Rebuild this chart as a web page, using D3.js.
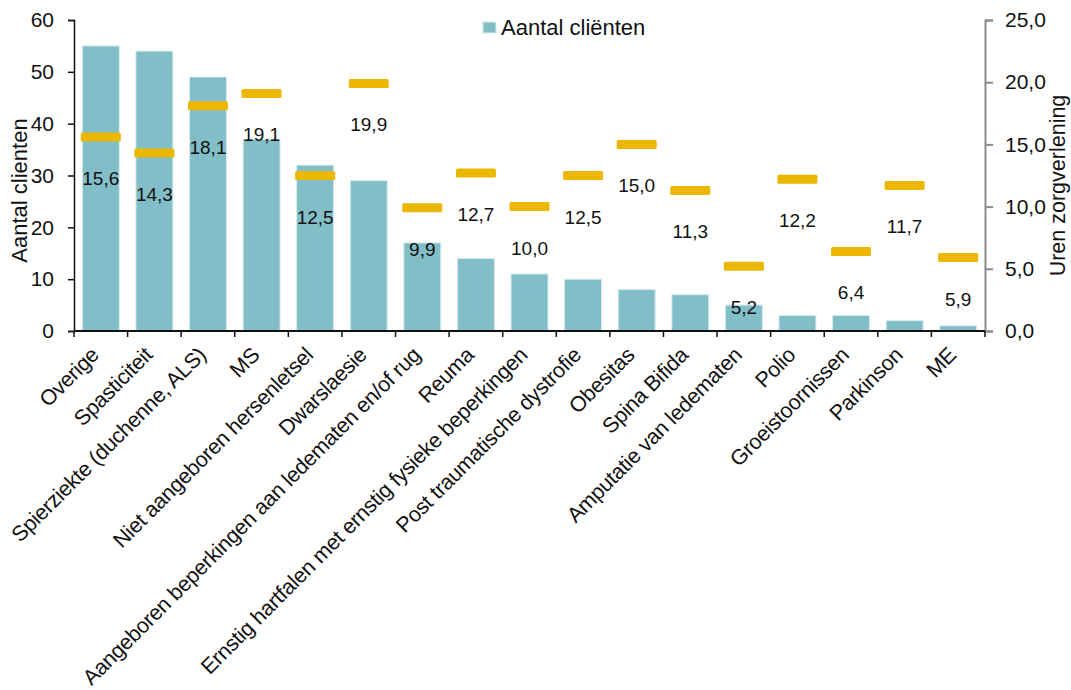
<!DOCTYPE html>
<html>
<head>
<meta charset="utf-8">
<script src="https://d3js.org/d3.v7.min.js"></script>
<style>
  body { margin: 0; background: #fff; }
  text { font-family: "Liberation Sans", Arial, sans-serif; fill: #111; }
</style>
</head>
<body>
<div id="chart"></div>
<script>
// categories on the x axis
const categories = [
  "Overige", "Spasticiteit", "Spierziekte (duchenne, ALS)", "MS",
  "Niet aangeboren hersenletsel", "Dwarslaesie",
  "Aangeboren beperkingen aan ledematen en/of rug", "Reuma",
  "Ernstig hartfalen met ernstig fysieke beperkingen",
  "Post traumatische dystrofie", "Obesitas", "Spina Bifida",
  "Amputatie van ledematen", "Polio", "Groeistoornissen", "Parkinson", "ME"
];
// bars: aantal cliënten (left axis)
const clients = [55, 54, 49, 37, 32, 29, 17, 14, 11, 10, 8, 7, 5, 3, 3, 2, 1];
// dashes: uren zorgverlening (right axis)
const hours = [15.6, 14.3, 18.1, 19.1, 12.5, 19.9, 9.9, 12.7, 10.0, 12.5, 15.0, 11.3, 5.2, 12.2, 6.4, 11.7, 5.9];
const leftTicks = [0, 10, 20, 30, 40, 50, 60];
const rightTicks = [0, 5, 10, 15, 20, 25];

const W = 1071, H = 690;
const margin = {top: 20, right: 86, bottom: 359, left: 74};
const width = W - margin.left - margin.right;
const height = H - margin.top - margin.bottom;

const svg = d3.select("#chart").append("svg")
    .attr("width", W)
    .attr("height", H);
const g = svg.append("g")
    .attr("transform", "translate(" + margin.left + "," + margin.top + ")");

const x = d3.scaleBand().domain(categories).range([0, width]).paddingInner(0.31).paddingOuter(0.155);
const xEdge = d3.scaleLinear().domain([0, categories.length]).range([0, width]);
const yL = d3.scaleLinear().domain([0, 60]).range([height, 0]);
const yR = d3.scaleLinear().domain([0, 25]).range([height, 0]);

const comma = d => d3.format(".1f")(d).replace(".", ",");

// bars
g.selectAll(".bar")
    .data(categories)
    .join("rect")
    .attr("class", "bar")
    .attr("x", d => x(d))
    .attr("width", x.bandwidth())
    .attr("y", (d, i) => yL(clients[i]))
    .attr("height", (d, i) => height - yL(clients[i]))
    .attr("fill", "#82bec8")
    .attr("stroke", "#d6ecef")
    .attr("stroke-width", 1);

// dashes for hours
const dashW = 40, dashH = 9;
g.selectAll(".dash")
    .data(categories)
    .join("rect")
    .attr("class", "dash")
    .attr("x", d => x(d) + x.bandwidth() / 2 - dashW / 2)
    .attr("y", (d, i) => yR(hours[i]) - dashH / 2)
    .attr("width", dashW)
    .attr("height", dashH)
    .attr("rx", 1.5)
    .attr("fill", "#ebb700");

// value labels below dashes
g.selectAll(".lbl")
    .data(categories)
    .join("text")
    .attr("class", "lbl")
    .attr("x", d => x(d) + x.bandwidth() / 2)
    .attr("y", (d, i) => yR(hours[i]) + 48)
    .attr("text-anchor", "middle")
    .style("font-size", "19px")
    .text((d, i) => comma(hours[i]));

// left axis
const axL = g.append("g")
    .call(d3.axisLeft(yL).tickValues(leftTicks).tickSize(6).tickPadding(14));
axL.select(".domain").attr("stroke", "#111").attr("stroke-width", 1.5);
axL.selectAll(".tick line").attr("stroke", "#111").attr("stroke-width", 1.5);
axL.selectAll(".tick text").style("font-size", "21px").style("font-family", "Liberation Sans, Arial, sans-serif").attr("fill", "#111");

// right axis
const axR = g.append("g")
    .attr("transform", "translate(" + width + ",0)")
    .call(d3.axisRight(yR).tickValues(rightTicks).tickSize(8).tickPadding(12).tickFormat(comma));
axR.select(".domain").attr("stroke", "#8c8c8c").attr("stroke-width", 2);
axR.selectAll(".tick line").attr("stroke", "#8c8c8c").attr("stroke-width", 2);
axR.selectAll(".tick text").style("font-size", "21px").style("font-family", "Liberation Sans, Arial, sans-serif").attr("fill", "#111");

// x axis: ticks at band edges
const axX = g.append("g").attr("transform", "translate(0," + height + ")");
axX.append("line")
    .attr("x1", 0).attr("x2", width)
    .attr("stroke", "#111").attr("stroke-width", 2);
axX.selectAll(".xt")
    .data(d3.range(categories.length + 1))
    .join("line")
    .attr("x1", d => xEdge(d)).attr("x2", d => xEdge(d))
    .attr("y1", 0).attr("y2", 6)
    .attr("stroke", "#111").attr("stroke-width", 1.5);
axX.selectAll(".xl")
    .data(categories)
    .join("text")
    .attr("transform", d => "translate(" + (x(d) + x.bandwidth() / 2 - 6) + ",20) rotate(-45)")
    .attr("text-anchor", "end")
    .attr("dy", "0.35em")
    .style("font-size", "21.5px")
    .style("letter-spacing", "-0.3px")
    .text(d => d);

// axis titles
g.append("text")
    .attr("transform", "translate(" + (27 - margin.left) + "," + (height / 2 + 15) + ") rotate(-90)")
    .attr("text-anchor", "middle")
    .style("font-size", "22px")
    .text("Aantal clienten");
g.append("text")
    .attr("transform", "translate(" + (1065 - margin.left) + "," + (height / 2 + 10) + ") rotate(-90)")
    .attr("text-anchor", "middle")
    .style("font-size", "21.5px")
    .text("Uren zorgverlening");

// legend
const leg = svg.append("g").attr("transform", "translate(483,22)");
leg.append("rect")
    .attr("width", 13).attr("height", 11)
    .attr("fill", "#82bec8").attr("stroke", "#d6ecef");
leg.append("text")
    .attr("x", 18).attr("y", 13)
    .style("font-size", "22px")
    .text("Aantal cliënten");
</script>
</body>
</html>
